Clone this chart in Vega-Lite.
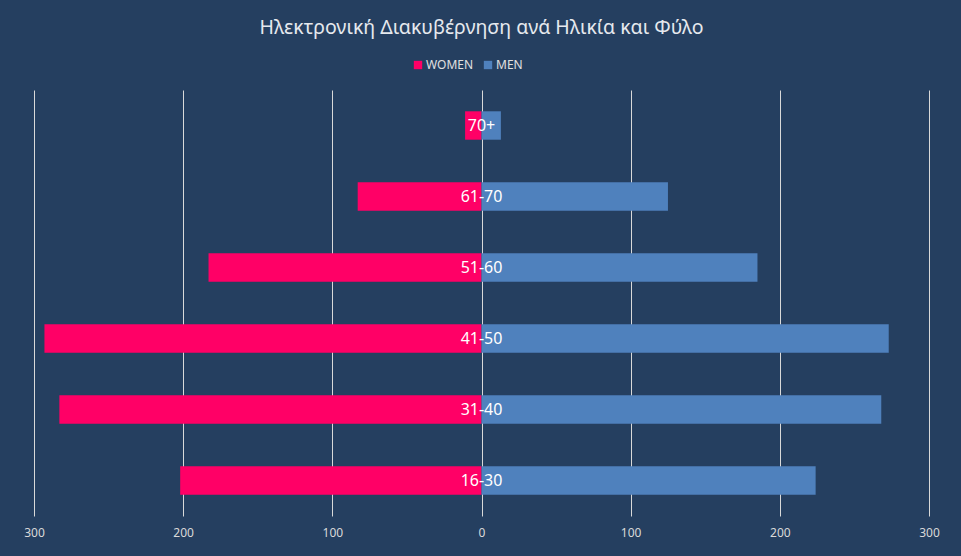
{
  "$schema": "https://vega.github.io/schema/vega-lite/v6.json",
  "width": 895,
  "height": 426,
  "autosize": {"type": "none"},
  "padding": {"left": 34, "top": 90, "right": 32, "bottom": 40},
  "background": "#253F60",
  "title": {
    "text": "Ηλεκτρονική Διακυβέρνηση ανά Ηλικία και Φύλο",
    "anchor": "middle",
    "frame": "group",
    "color": "#E6E9EE",
    "font": "Noto Sans",
    "fontSize": 19.5,
    "fontWeight": "normal",
    "offset": 21
  },
  "config": {
    "view": {"stroke": null},
    "font": "Noto Sans"
  },
  "datasets": {
    "bars": [
      {"age": "70+", "gender": "WOMEN", "value": -11},
      {"age": "61-70", "gender": "WOMEN", "value": -83},
      {"age": "51-60", "gender": "WOMEN", "value": -183},
      {"age": "41-50", "gender": "WOMEN", "value": -293},
      {"age": "31-40", "gender": "WOMEN", "value": -283},
      {"age": "16-30", "gender": "WOMEN", "value": -202},
      {"age": "70+", "gender": "MEN", "value": 13},
      {"age": "61-70", "gender": "MEN", "value": 125},
      {"age": "51-60", "gender": "MEN", "value": 185},
      {"age": "41-50", "gender": "MEN", "value": 273},
      {"age": "31-40", "gender": "MEN", "value": 268},
      {"age": "16-30", "gender": "MEN", "value": 224}
    ],
    "ages": [
      {"age": "70+"},
      {"age": "61-70"},
      {"age": "51-60"},
      {"age": "41-50"},
      {"age": "31-40"},
      {"age": "16-30"}
    ]
  },
  "layer": [
    {
      "data": {"name": "bars"},
      "mark": {"type": "bar"},
      "encoding": {
        "y": {
          "field": "age",
          "type": "nominal",
          "sort": ["70+", "61-70", "51-60", "41-50", "31-40", "16-30"],
          "scale": {"paddingInner": 0.6, "paddingOuter": 0.3},
          "axis": null
        },
        "x": {
          "field": "value",
          "type": "quantitative",
          "scale": {"domain": [-300, 300], "nice": false},
          "axis": {
            "title": null,
            "values": [-300, -200, -100, 0, 100, 200, 300],
            "labelExpr": "format(abs(datum.value), 'd')",
            "grid": true,
            "gridColor": "#D9D9D9",
            "gridWidth": 1,
            "gridOpacity": 1,
            "domain": false,
            "ticks": false,
            "labelColor": "#D9D9D9",
            "labelFontSize": 12,
            "labelPadding": 11,
            "labelFlush": false
          }
        },
        "color": {
          "field": "gender",
          "type": "nominal",
          "sort": ["WOMEN", "MEN"],
          "scale": {"domain": ["WOMEN", "MEN"], "range": ["#FF0066", "#4F81BD"]},
          "legend": {
            "title": null,
            "orient": "none",
            "direction": "horizontal",
            "legendX": 378,
            "legendY": -31,
            "symbolType": "square",
            "symbolSize": 70,
            "symbolStrokeWidth": 0,
            "labelColor": "#E0E0E0",
            "labelFontSize": 12,
            "labelOffset": 2,
            "columnPadding": 8
          }
        }
      }
    },
    {
      "data": {"name": "ages"},
      "mark": {"type": "text", "color": "#FFFFFF", "fontSize": 16, "align": "center", "baseline": "middle", "font": "Noto Sans"},
      "encoding": {
        "y": {
          "field": "age",
          "type": "nominal",
          "sort": ["70+", "61-70", "51-60", "41-50", "31-40", "16-30"]
        },
        "x": {"datum": 0, "type": "quantitative"},
        "text": {"field": "age"}
      }
    }
  ]
}
